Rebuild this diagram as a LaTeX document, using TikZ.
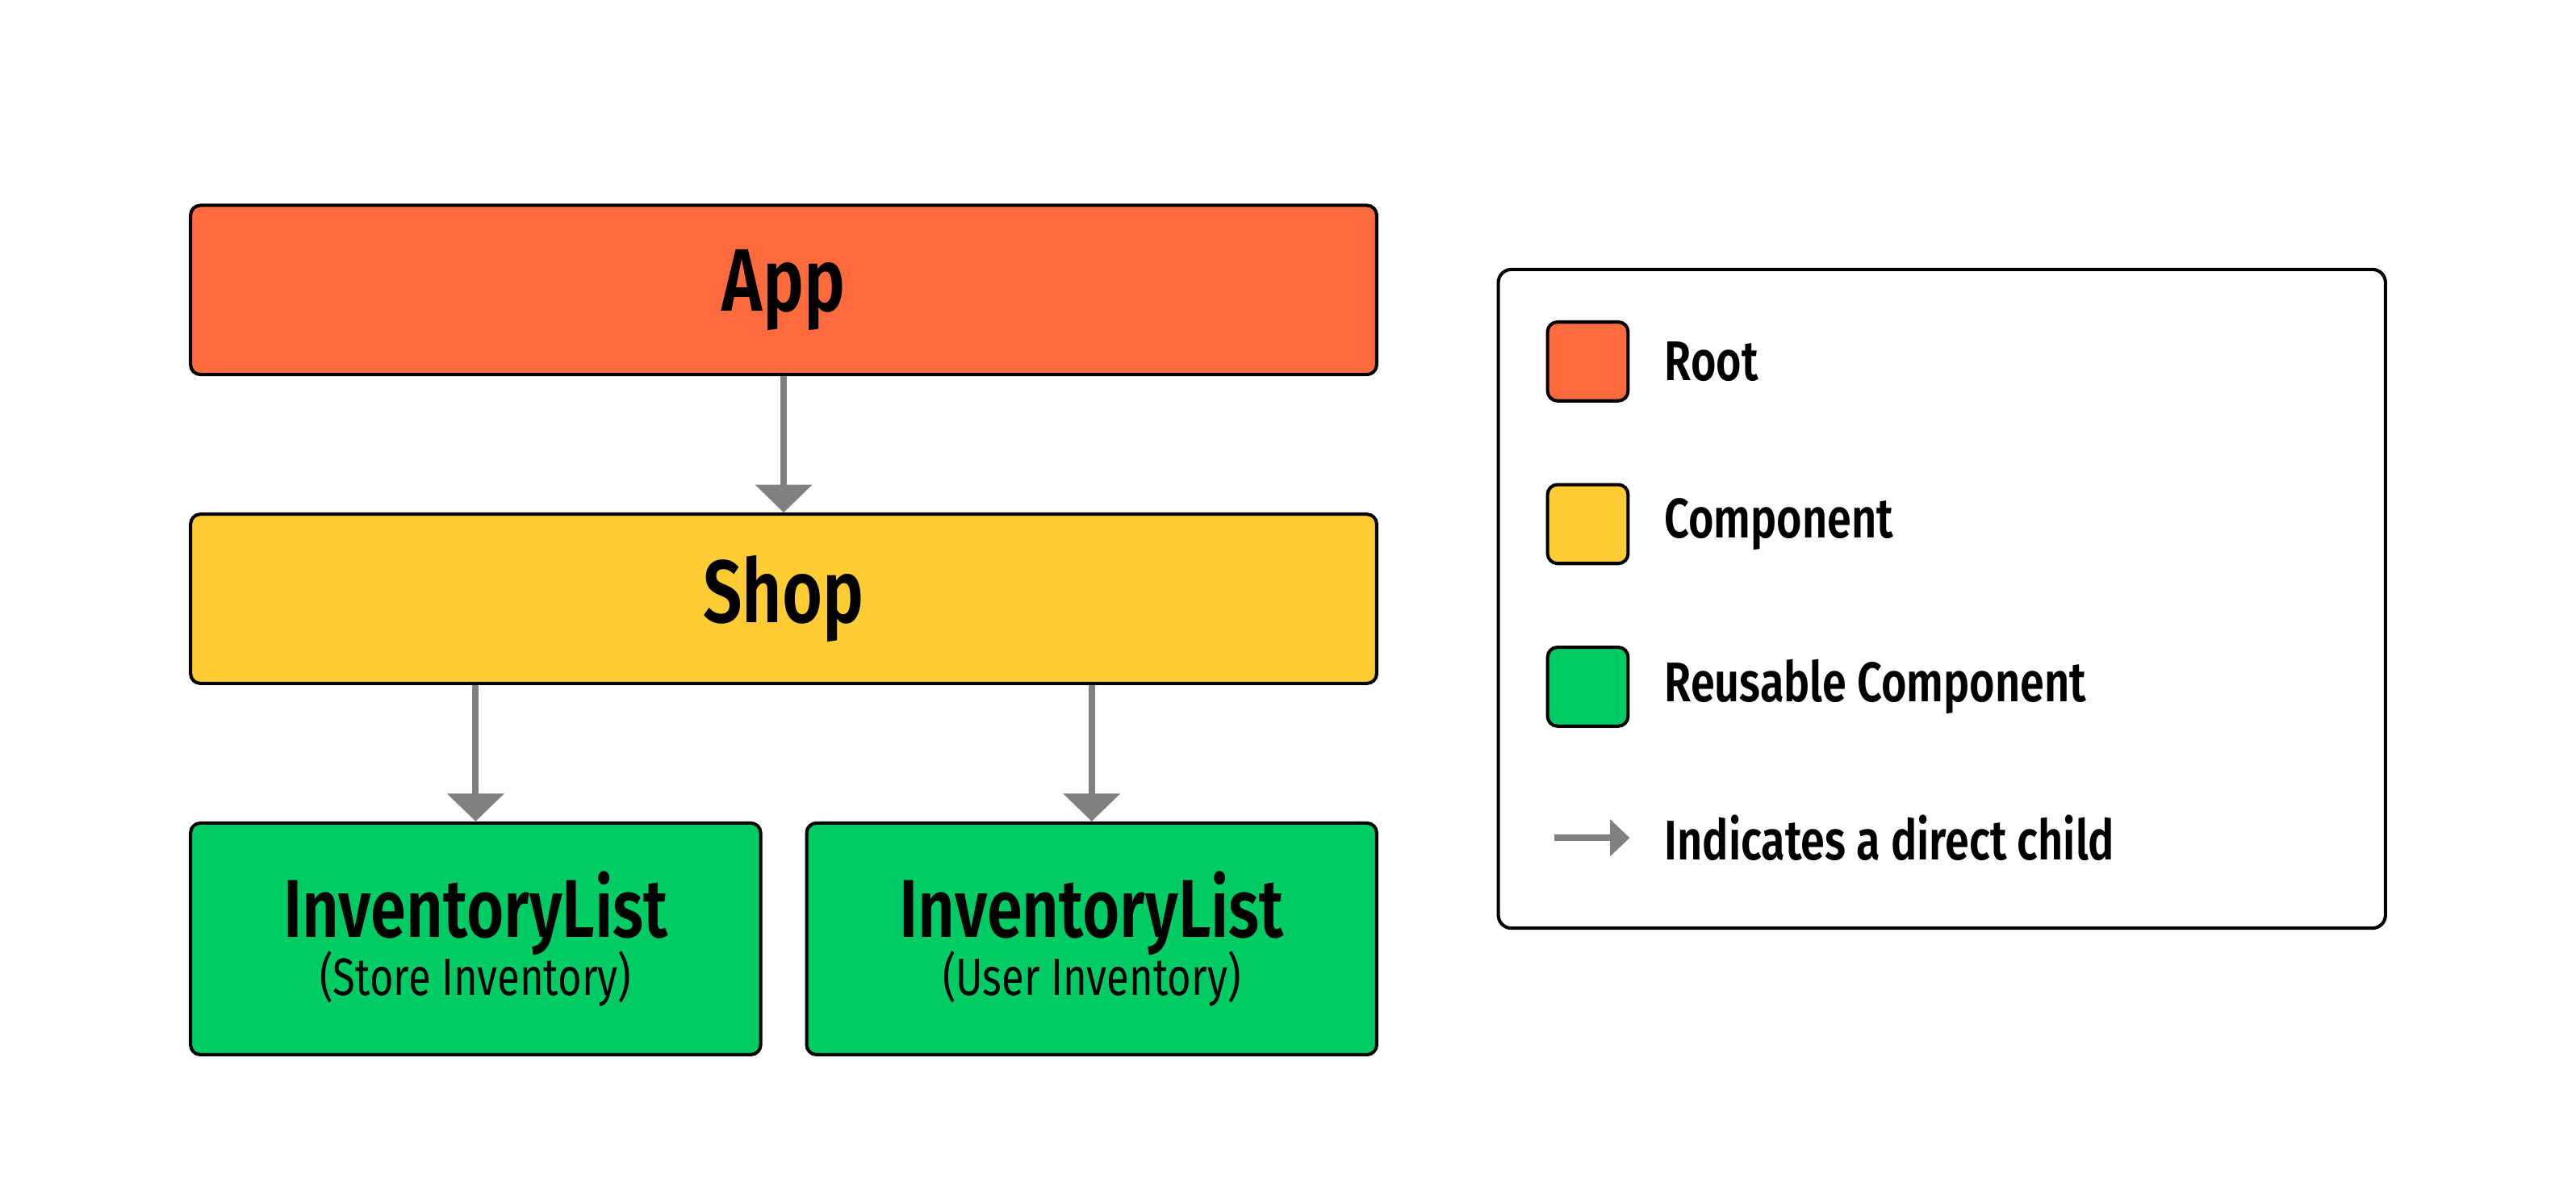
\documentclass[tikz,border=0pt]{standalone}
\usepackage{fontspec}
\setmainfont{Fira Sans}[FakeStretch=0.78,BoldFont={Fira Sans SemiBold}]
\usetikzlibrary{arrows.meta}
\definecolor{root}{HTML}{FF6B3D}
\definecolor{comp}{HTML}{FFCD33}
\definecolor{reuse}{HTML}{00CC66}
\definecolor{arr}{HTML}{808080}
\begin{document}
\begin{tikzpicture}[x=1pt,y=-1pt,
 box/.style={draw=black,line width=2pt,rounded corners=6pt,inner sep=0pt,font=\bfseries},
 sw/.style={draw=black,line width=2pt,rounded corners=6pt,minimum width=49pt,minimum height=48pt,inner sep=0pt},
 lab/.style={anchor=west,font=\bfseries\fontsize{34}{40}\selectfont,inner sep=0pt},
 ar/.style={draw=arr,line width=4pt,-{Triangle[width=34pt,length=17pt]}}]
\useasboundingbox (0,0) rectangle (1568,730);
\node[box,fill=root,minimum width=722pt,minimum height=103pt,font=\bfseries\fontsize{54}{60}\selectfont] (app) at (477,176.5) {App};
\node[box,fill=comp,minimum width=722pt,minimum height=103pt,font=\bfseries\fontsize{54}{60}\selectfont] (shop) at (477,364.5) {Shop};
\node[box,fill=reuse,minimum width=347pt,minimum height=141pt,align=center] (inv1) at (289.5,571.5) {{\fontsize{50}{56}\selectfont InventoryList}\\[-4pt]{\mdseries\fontsize{32}{40}\selectfont (Store Inventory)}};
\node[box,fill=reuse,minimum width=347pt,minimum height=141pt,align=center] (inv2) at (664.5,571.5) {{\fontsize{50}{56}\selectfont InventoryList}\\[-4pt]{\mdseries\fontsize{32}{40}\selectfont (User Inventory)}};
\draw[ar] (app.south) -- (shop.north);
\draw[ar] (shop.south -| inv1.north) -- (inv1.north);
\draw[ar] (shop.south -| inv2.north) -- (inv2.north);
\node[draw=black,line width=2pt,rounded corners=8pt,minimum width=540pt,minimum height=401pt,inner sep=0pt] (legend) at (1182,364.5) {};
\node[sw,fill=root] (s1) at (966.5,220) {};
\node[sw,fill=comp] (s2) at (966.5,319) {};
\node[sw,fill=reuse] (s3) at (966.5,418) {};
\node[lab] (l1) at (1013,220) {Root};
\node[lab] (l2) at (1013,319) {Component};
\node[lab] (l3) at (1013,418) {Reusable Component};
\coordinate (a1) at (946,510);
\coordinate (a2) at (992,510);
\draw[draw=arr,line width=4pt,-{Triangle[width=22pt,length=12pt]}] (a1) -- (a2);
\node[lab] (l4) at (1013,510) {Indicates a direct child};
\end{tikzpicture}
\end{document}
